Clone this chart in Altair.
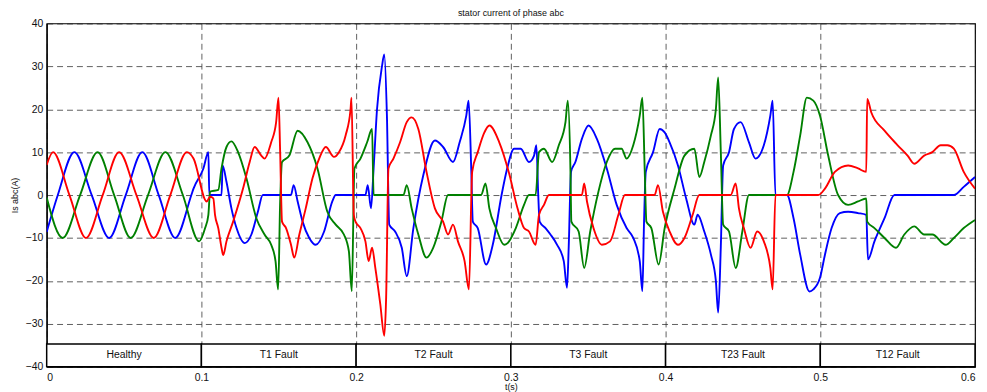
import altair as alt
import pandas as pd

# ---------------- data (t in s, current in A) ----------------
red_t = [0.0000, 0.0041, 0.0147, 0.0254, 0.0362, 0.0468, 0.0580, 0.0692, 0.0799, 0.0906,
         0.0949, 0.1034, 0.1056, 0.1077, 0.1088, 0.1109, 0.1130, 0.1141, 0.1162, 0.1205,
         0.1269, 0.1312, 0.1344, 0.1387, 0.1408, 0.1451, 0.1483, 0.1498, 0.1509, 0.1521,
         0.1547, 0.1579, 0.1600, 0.1633, 0.1675, 0.1718, 0.1761, 0.1804, 0.1857, 0.1889,
         0.1932, 0.1964, 0.1970, 0.1985, 0.1996, 0.2028, 0.2060, 0.2081, 0.2103, 0.2124,
         0.2156, 0.2182, 0.2194, 0.2209, 0.2241, 0.2284, 0.2327, 0.2359, 0.2402, 0.2455,
         0.2509, 0.2562, 0.2594, 0.2626, 0.2658, 0.2701, 0.2729, 0.2750, 0.2786, 0.2829,
         0.2861, 0.2925, 0.2989, 0.3043, 0.3085, 0.3117, 0.3160, 0.3182, 0.3214, 0.3246,
         0.3459, 0.3474, 0.3492, 0.3534, 0.3588, 0.3641, 0.3695, 0.3737, 0.3929, 0.3951,
         0.3983, 0.4026, 0.4080, 0.4122, 0.4175, 0.4218, 0.4421, 0.4453, 0.4474, 0.4506,
         0.4549, 0.4592, 0.4635, 0.4677, 0.4692, 0.4710, 0.4987, 0.5030, 0.5094, 0.5180,
         0.5244, 0.5297, 0.5303, 0.5329, 0.5415, 0.5500, 0.5564, 0.5607, 0.5671, 0.5724,
         0.5778, 0.5821, 0.5863, 0.5927, 0.6000]
red_v = [7.0, 10.0, 0.0, -10.0, 0.0, 10.0, 0.0, -10.0, 0.0, 10.0,
         8.5, -1.5, -0.4, -0.8, -4.6, -7.7, -12.3, -14.0, -10.8, -6.2,
         1.5, 7.7, 11.2, 9.2, 8.5, 12.3, 17.0, 22.7, 10.0, -6.2,
         -7.7, -11.6, -14.6, -9.2, -3.0, 3.9, 8.5, 11.2, 8.9, 10.0,
         13.9, 20.0, 22.7, -4.6, -6.2, -7.7, -10.8, -15.4, -12.3, -17.0,
         -25.4, -32.8, -23.8, 6.2, 8.5, 12.3, 17.0, 18.1, 15.4, 5.4,
         -3.1, -6.2, -9.2, -6.9, -10.8, -15.4, -22.0, 5.4, 10.0, 14.6,
         16.2, 12.3, 5.0, -3.1, -7.7, -8.5, -11.6, -4.6, -2.3, 0.0,
         0.0, 2.7, -1.5, -7.7, -11.6, -10.8, -4.6, 0.0, 0.0, 2.3,
         -3.9, -8.5, -11.6, -10.0, -4.6, 0.0, 0.0, 2.7, -3.1, -7.7,
         -12.3, -8.5, -10.8, -17.0, -22.0, 0.0, 0.0, 1.5, 5.4, 6.9,
         6.2, 5.4, 22.4, 19.3, 15.0, 11.6, 9.2, 7.3, 9.2, 10.0,
         11.6, 11.6, 10.8, 5.4, 1.5]

blue_t = [0.0000, 0.0072, 0.0179, 0.0291, 0.0404, 0.0511, 0.0618, 0.0724, 0.0831, 0.0935,
          0.0949, 0.1013, 0.1045, 0.1051, 0.1130, 0.1137, 0.1162, 0.1194, 0.1227, 0.1280,
          0.1323, 0.1365, 0.1397, 0.1579, 0.1596, 0.1622, 0.1654, 0.1697, 0.1739, 0.1793,
          0.1846, 0.1868, 0.2060, 0.2075, 0.2096, 0.2113, 0.2135, 0.2167, 0.2182, 0.2199,
          0.2214, 0.2252, 0.2295, 0.2327, 0.2370, 0.2434, 0.2509, 0.2562, 0.2626, 0.2669,
          0.2712, 0.2727, 0.2744, 0.2754, 0.2786, 0.2840, 0.2883, 0.2940, 0.2975, 0.3021,
          0.3064, 0.3117, 0.3150, 0.3165, 0.3177, 0.3186, 0.3224, 0.3256, 0.3299, 0.3342,
          0.3363, 0.3374, 0.3389, 0.3417, 0.3459, 0.3502, 0.3556, 0.3620, 0.3684, 0.3748,
          0.3791, 0.3833, 0.3850, 0.3861, 0.3872, 0.3919, 0.3962, 0.3994, 0.4026, 0.4080,
          0.4133, 0.4186, 0.4207, 0.4250, 0.4293, 0.4325, 0.4340, 0.4357, 0.4372, 0.4410,
          0.4442, 0.4485, 0.4539, 0.4581, 0.4635, 0.4677, 0.4692, 0.4710, 0.4784, 0.4827,
          0.4870, 0.4930, 0.4955, 0.4998, 0.5030, 0.5073, 0.5126, 0.5180, 0.5244, 0.5297,
          0.5308, 0.5350, 0.5415, 0.5479, 0.5863, 0.5927, 0.6000]
blue_v = [-8.6, 0.0, 10.0, 0.0, -10.0, 0.0, 10.0, 0.0, -10.0, 0.0,
          1.5, 6.2, 10.0, 0.0, 0.0, 6.9, 3.1, -3.1, -7.7, -11.2,
          -9.2, -3.9, 0.0, 0.0, 2.3, -1.5, -6.2, -10.0, -11.6, -8.5,
          -1.5, 0.0, 0.0, 2.3, -3.1, 6.2, 20.0, 30.0, 32.8, 18.5,
          -6.9, -8.5, -12.3, -18.9, -7.7, 4.6, 12.7, 11.2, 7.7, 12.3,
          18.5, 22.0, 6.0, -6.2, -7.7, -16.2, -11.6, 0.0, 6.0, 10.8,
          10.8, 7.7, 9.2, 11.6, 0.0, -6.2, -7.7, -9.2, -11.6, -15.4,
          -21.6, -12.0, 5.4, 7.7, 13.1, 16.2, 13.1, 6.2, -2.3, -7.7,
          -10.0, -15.4, -22.4, -6.0, 5.4, 10.0, 15.4, 14.6, 12.3, 6.9,
          -0.8, -6.9, -4.6, -8.5, -13.9, -20.0, -27.4, -12.0, 6.9, 10.0,
          15.4, 17.0, 12.3, 8.5, 11.6, 18.5, 22.0, 0.0, 0.0, -5.4,
          -13.9, -22.5, -22.0, -19.3, -13.9, -7.7, -4.2, -3.9, -4.2, -4.6,
          -15.0, -10.8, -5.4, 0.0, 0.0, 1.9, 4.2]

green_t = [0.0000, 0.0104, 0.0216, 0.0329, 0.0436, 0.0543, 0.0655, 0.0767, 0.0880, 0.0985,
           0.1024, 0.1045, 0.1056, 0.1109, 0.1130, 0.1162, 0.1194, 0.1237, 0.1291, 0.1355,
           0.1408, 0.1451, 0.1479, 0.1496, 0.1509, 0.1521, 0.1568, 0.1622, 0.1686, 0.1750,
           0.1814, 0.1868, 0.1921, 0.1953, 0.1972, 0.1989, 0.2028, 0.2071, 0.2103, 0.2113,
           0.2306, 0.2327, 0.2359, 0.2402, 0.2455, 0.2498, 0.2551, 0.2594, 0.2808, 0.2836,
           0.2861, 0.2904, 0.2957, 0.2979, 0.3032, 0.3085, 0.3117, 0.3160, 0.3182, 0.3214,
           0.3267, 0.3310, 0.3353, 0.3368, 0.3385, 0.3391, 0.3438, 0.3474, 0.3513, 0.3566,
           0.3620, 0.3673, 0.3716, 0.3748, 0.3791, 0.3833, 0.3850, 0.3865, 0.3876, 0.3908,
           0.3955, 0.3994, 0.4058, 0.4122, 0.4186, 0.4218, 0.4250, 0.4293, 0.4325, 0.4340,
           0.4357, 0.4372, 0.4410, 0.4453, 0.4496, 0.4539, 0.4784, 0.4827, 0.4870, 0.4913,
           0.4955, 0.4998, 0.5051, 0.5115, 0.5180, 0.5244, 0.5297, 0.5303, 0.5350, 0.5415,
           0.5489, 0.5543, 0.5607, 0.5671, 0.5724, 0.5810, 0.5863, 0.5927, 0.6000]
green_v = [-0.6, -10.0, 0.0, 10.0, 0.0, -10.0, 0.0, 10.0, 0.0, -10.8,
           -7.7, -4.6, 0.8, 1.2, 6.2, 11.2, 12.5, 10.0, 3.9, -5.4,
           -9.2, -11.6, -15.4, -22.0, -1.5, 7.7, 9.2, 15.0, 12.3, 6.2,
           -3.9, -6.9, -9.2, -13.1, -22.4, 6.2, 8.5, 12.3, 15.4, 0.0,
           0.0, 2.3, -3.1, -9.2, -14.6, -12.3, -6.2, 0.0, 0.0, 2.7,
           -3.1, -7.7, -11.6, -11.2, -7.7, -2.3, 0.0, 0.0, 10.0, 10.8,
           7.7, 11.6, 17.0, 22.0, 6.0, -6.2, -8.5, -17.0, -8.5, 0.8,
           7.7, 10.8, 10.8, 8.5, 11.6, 18.5, 22.7, 6.0, -6.2, -7.7,
           -16.2, -7.7, 1.5, 9.2, 10.8, 4.2, 7.7, 13.9, 20.0, 27.4,
           10.0, -6.9, -8.5, -17.0, -8.5, 0.0, 0.0, 5.4, 13.9, 22.7,
           22.0, 18.5, 9.2, 0.0, -2.3, -1.5, -0.8, -6.2, -7.7, -10.0,
           -12.3, -9.2, -7.3, -9.2, -9.2, -11.6, -10.0, -7.7, -5.8]

stage_labels = ["Healthy", "T1 Fault", "T2 Fault", "T3 Fault", "T23 Fault", "T12 Fault"]
stage_start = [0.0, 0.1, 0.2, 0.3, 0.4, 0.5]
stage_end = [0.1, 0.2, 0.3, 0.4, 0.5, 0.6]

x_ticks = [0, 0.1, 0.2, 0.3, 0.4, 0.5, 0.6]
y_ticks = [-40, -30, -20, -10, 0, 10, 20, 30, 40]

FONT = "Liberation Sans"
INK = "#111111"

xs = alt.Scale(domain=[0, 0.6], nice=False, zero=False)
ys = alt.Scale(domain=[-40, 40], nice=False, zero=False)

common_axis = dict(
    ticks=False, grid=True, gridColor="#222222", gridDash=[6, 4], gridWidth=0.8,
    gridOpacity=0.9, domainColor="black", domainWidth=1.2,
    labelFont=FONT, labelFontSize=10.5, labelColor=INK,
    titleFont=FONT, titleFontSize=9, titleFontWeight="normal", titleColor=INK,
)
x_axis = alt.Axis(values=x_ticks, format="~g", title="t(s)", labelPadding=6,
                  titlePadding=0, **common_axis)
y_axis = alt.Axis(values=y_ticks, format="d", title="Is abc(A)", labelPadding=4,
                  titlePadding=6, **common_axis)


def phase_line(t, v, color):
    df = pd.DataFrame({"t": t, "v": v})
    return alt.Chart(df).mark_line(color=color, strokeWidth=1.9, interpolate="monotone",
                                   clip=True).encode(
        x=alt.X("t:Q", scale=xs, axis=x_axis),
        y=alt.Y("v:Q", scale=ys, axis=y_axis),
    )


stages = pd.DataFrame({
    "label": stage_labels,
    "start": stage_start,
    "end": stage_end,
    "mid": [(a + b) / 2 for a, b in zip(stage_start, stage_end)],
    "lo": [-40] * 6,
    "hi": [-34.7] * 6,
    "ty": [-37.2] * 6,
})

boxes = alt.Chart(stages).mark_rect(fill="white", stroke="black", strokeWidth=1.5).encode(
    x=alt.X("start:Q", scale=xs, axis=x_axis),
    x2="end:Q",
    y=alt.Y("lo:Q", scale=ys, axis=y_axis),
    y2="hi:Q",
)
box_text = alt.Chart(stages).mark_text(font=FONT, fontSize=10.5, color=INK).encode(
    x=alt.X("mid:Q", scale=xs),
    y=alt.Y("ty:Q", scale=ys),
    text="label:N",
)

chart = alt.layer(
    boxes,
    box_text,
    phase_line(blue_t, blue_v, "#0000ff"),
    phase_line(green_t, green_v, "#008000"),
    phase_line(red_t, red_v, "#ff0000"),
).properties(
    width=936,
    height=346,
    background="white",
    title=alt.TitleParams("stator current of phase abc", fontSize=9, fontWeight="normal",
                          font=FONT, offset=0, dy=-1, color=INK),
    autosize=alt.AutoSizeParams(type="none"),
    padding={"left": 39, "top": 14, "right": 4, "bottom": 24},
).configure_view(
    stroke="black", strokeWidth=1.2
)

chart.save("out.html", embed_options={"renderer": "svg", "actions": False})
